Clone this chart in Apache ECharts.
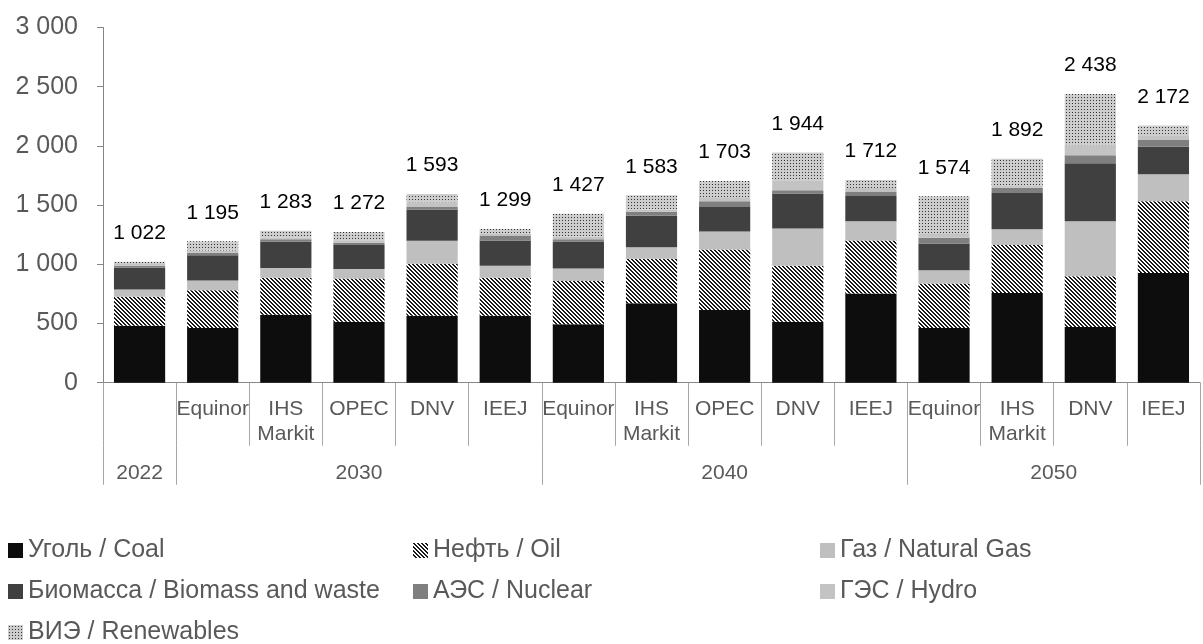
<!DOCTYPE html>
<html>
<head>
<meta charset="utf-8">
<script src="https://cdn.jsdelivr.net/npm/echarts@6/dist/echarts.min.js"></script>
<style>
  html, body { margin: 0; padding: 0; background: #fff; }
  #main { width: 1203px; height: 644px; }
</style>
</head>
<body>
<div id="main"></div>
<script>
// категории (сценарии) и годы
var scenarios = ['', 'Equinor', 'IHS\nMarkit', 'OPEC', 'DNV', 'IEEJ',
  'Equinor', 'IHS\nMarkit', 'OPEC', 'DNV', 'IEEJ',
  'Equinor', 'IHS\nMarkit', 'DNV', 'IEEJ'];
var years = ['2022', '2030', '2040', '2050'];
var yearSizes = [1, 5, 5, 4];

var coal       = [480, 463, 573, 514, 565, 565, 494, 672, 615, 514, 753, 463, 758, 471, 927];
var oil        = [245, 318, 313, 366, 439, 321, 366, 374, 510, 473, 447, 375, 406, 428, 605];
var gas        = [ 63,  82,  82,  81, 194, 101, 104,  99, 152, 315, 163, 112, 133, 464, 229];
var biomass    = [183, 214, 223, 203, 265, 214, 229, 264, 208, 296, 214, 226, 306, 490, 231];
var nuclear    = [ 17,  20,  20,  17,  22,  43,  19,  34,  48,  28,  38,  48,  43,  68,  57];
var hydro      = [ 14,  20,  14,  23,  40,  19,  20,  20,  28,  84,  30,  31,  22,  84,  34];
var renewables = [ 20,  78,  58,  68,  68,  36, 195, 120, 142, 234,  67, 319, 224, 433,  89];
var totals     = [1022, 1195, 1283, 1272, 1593, 1299, 1427, 1583, 1703, 1944, 1712, 1574, 1892, 2438, 2172];

var yTicks = { min: 0, max: 3000, interval: 500 };

var FONT = 'Liberation Sans, Arial, sans-serif';

function fmt(v) {
  return String(v).replace(/\B(?=(\d{3})+(?!\d))/g, ' ');
}

// штриховки
function makePattern(size, draw) {
  var c = document.createElement('canvas');
  c.width = size; c.height = size;
  var ctx = c.getContext('2d');
  draw(ctx);
  return { image: c, repeat: 'repeat' };
}
var oilPattern = makePattern(4, function (ctx) {
  ctx.fillStyle = '#ffffff';
  ctx.fillRect(0, 0, 4, 4);
  ctx.fillStyle = '#1a1a1a';
  for (var r = 0; r < 4; r++) {
    ctx.fillRect(r, r, 1, 1);
    ctx.fillRect((r + 1) % 4, r, 1, 1);
  }
});
var renPattern = makePattern(3, function (ctx) {
  ctx.fillStyle = '#cdcdcd';
  ctx.fillRect(0, 0, 3, 3);
  ctx.fillStyle = '#333333';
  ctx.fillRect(1, 1, 1, 1);
});

// второй уровень оси: точки через половину категории
var yearAxisData = [];
var yearTickIdx = {};
var n = scenarios.length * 2 + 1;
for (var i = 0; i < n; i++) yearAxisData.push('');
var start = 0;
years.forEach(function (y, k) {
  yearAxisData[2 * start + yearSizes[k]] = y;
  yearTickIdx[2 * start] = true;
  start += yearSizes[k];
});
yearTickIdx[2 * start] = true;

// легенда: 3 колонки
var legendItems = [
  ['Уголь / Coal', 0, 0], ['Нефть / Oil', 1, 0], ['Газ / Natural Gas', 2, 0],
  ['Биомасса / Biomass and waste', 0, 1], ['АЭС / Nuclear', 1, 1], ['ГЭС / Hydro', 2, 1],
  ['ВИЭ / Renewables', 0, 2]
];
var legendCols = [8, 413, 820];
var legendRows = [538, 579, 620];

var myChart = echarts.init(document.getElementById('main'));

function barSeries(name, data, color, extra) {
  var s = {
    name: name,
    type: 'bar',
    stack: 'total',
    barCategoryGap: '30%',
    data: data,
    itemStyle: { color: color },
    emphasis: { disabled: true }
  };
  if (extra) for (var key in extra) s[key] = extra[key];
  return s;
}

var option = {
  animation: false,
  textStyle: { fontFamily: FONT },
  grid: { left: 103, top: 27.5, width: 1113, height: 355.2 },
  legend: legendItems.map(function (it) {
    return {
      data: [it[0]],
      left: legendCols[it[1]],
      top: legendRows[it[2]],
      icon: 'rect',
      itemWidth: 15,
      itemHeight: 15,
      padding: 0,
      selectedMode: false,
      textStyle: { fontSize: 25, color: '#595959', fontFamily: FONT }
    };
  }),
  xAxis: [
    {
      type: 'category',
      data: scenarios,
      axisLine: { lineStyle: { color: '#898989', width: 1 } },
      axisTick: { show: true, length: 63, interval: 0, lineStyle: { color: '#a6a6a6' } },
      axisLabel: { interval: 0, margin: 14, fontSize: 21, lineHeight: 25, color: '#595959', fontFamily: FONT }
    },
    {
      type: 'category',
      position: 'bottom',
      offset: 63,
      boundaryGap: false,
      data: yearAxisData,
      axisLine: { show: false },
      axisTick: {
        show: true,
        length: 39,
        interval: function (idx) { return !!yearTickIdx[idx]; },
        lineStyle: { color: '#a6a6a6' }
      },
      axisLabel: { interval: 0, margin: 15, fontSize: 21, lineHeight: 25, color: '#595959', fontFamily: FONT }
    }
  ],
  yAxis: {
    type: 'value',
    min: yTicks.min,
    max: yTicks.max,
    interval: yTicks.interval,
    splitLine: { show: false },
    axisLine: { show: true, lineStyle: { color: '#868686' } },
    axisTick: { show: true, length: 6, lineStyle: { color: '#868686' } },
    axisLabel: { margin: 25, fontSize: 25, color: '#595959', fontFamily: FONT, formatter: fmt }
  },
  series: [
    barSeries('Уголь / Coal', coal, '#0d0d0d'),
    barSeries('Нефть / Oil', oil, oilPattern),
    barSeries('Газ / Natural Gas', gas, '#bfbfbf'),
    barSeries('Биомасса / Biomass and waste', biomass, '#404040'),
    barSeries('АЭС / Nuclear', nuclear, '#7f7f7f'),
    barSeries('ГЭС / Hydro', hydro, '#c3c3c3'),
    barSeries('ВИЭ / Renewables', renewables, renPattern, {
      label: {
        show: true,
        position: 'top',
        distance: 18,
        fontSize: 21,
        color: '#000',
        fontFamily: FONT,
        formatter: function (p) { return fmt(totals[p.dataIndex]); }
      }
    })
  ]
};
myChart.setOption(option);
</script>
</body>
</html>
